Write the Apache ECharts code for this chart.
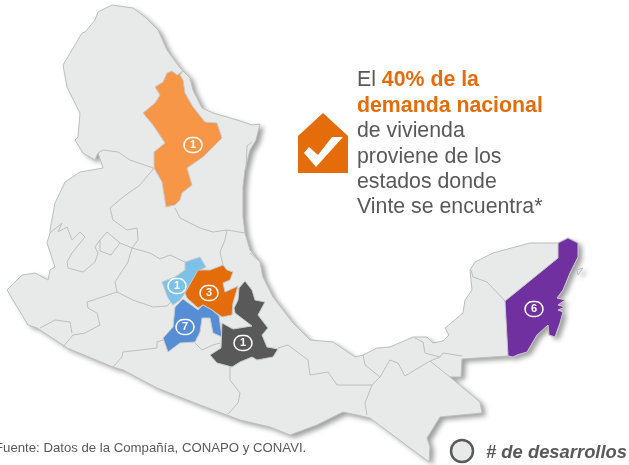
<!DOCTYPE html>
<html>
<head>
<meta charset="utf-8">
<style>html,body{margin:0;padding:0;background:#fff}#main{width:629px;height:465px}</style>
<script src="https://cdn.jsdelivr.net/npm/echarts@6/dist/echarts.min.js"></script>
</head>
<body>
<div id="main"></div>
<script>
// desarrollos por estado
const estados = ['Nuevo León', 'Querétaro', 'Hidalgo', 'Estado de México', 'Puebla', 'Quintana Roo'];
const desarrollos = [1, 1, 3, 7, 1, 6];
const coloresEstado = ['#F79646', '#7CC2E8', '#E46C0A', '#558ED5', '#595959', '#7030A0'];
const centros = [[193, 145], [177, 286], [209, 293], [185, 327], [243, 343], [534, 309]];

// contornos, en px
const contorno = [[112,5],[133,8],[145,17],[158,30],[167,50],[180,68],[190,78],[193,90],[202,108],[213,113],[237,120],[252,125],[260,124],[256,140],[250,150],[245,170],[243,187],[243,217],[245,233],[250,250],[260,262],[263,277],[273,297],[293,323],[310,340],[333,342],[355,357],[363,355],[377,348],[390,347],[413,337],[427,337],[433,343],[443,341],[449,335],[445,328],[463,313],[465,300],[472,290],[470,270],[475,262],[493,253],[530,243],[558,243],[568,238],[578,243],[578,257],[570,273],[563,290],[557,298],[565,300],[558,305],[565,307],[558,310],[563,312],[560,323],[555,337],[549,335],[548,325],[537,335],[527,352],[517,355],[513,357],[508,356],[462,359],[461,377],[450,377],[480,402],[482,413],[440,417],[427,438],[430,447],[429,462],[370,418],[357,415],[343,412],[317,425],[290,435],[270,427],[240,420],[227,415],[200,405],[157,388],[123,370],[113,367],[67,348],[63,345],[37,328],[28,325],[7,290],[22,275],[35,273],[48,280],[50,270],[55,267],[47,243],[50,233],[50,230],[55,203],[65,182],[80,172],[103,168],[98,153],[95,160],[83,153],[75,140],[78,137],[80,113],[67,87],[63,65],[82,33],[85,32],[95,20],[98,12]];
const isla = [[577,270],[583,268],[578,275]];
const nuevoLeon = [[183,71],[177,75],[172,71],[167,73],[163,82],[155,87],[160,95],[155,103],[143,113],[153,125],[165,143],[154,152],[154,168],[162,182],[166,207],[175,205],[180,200],[182,193],[192,185],[187,168],[203,157],[222,138],[217,123],[205,122],[193,107],[185,93],[183,80],[180,75]];
const queretaro = [[185,262],[200,257],[206,267],[200,270],[185,293],[180,300],[173,305],[168,298],[162,282],[175,277],[185,270]];
const hidalgo = [[198,270],[210,270],[223,265],[227,270],[233,272],[230,280],[223,283],[225,292],[238,286],[233,303],[232,315],[222,317],[212,310],[203,305],[198,308],[187,298],[185,293]];
const edoMexico = [[183,299],[198,310],[203,305],[212,310],[219,316],[222,337],[213,333],[210,318],[202,318],[200,332],[195,342],[180,343],[168,352],[163,338],[173,327],[175,307]];
const puebla = [[245,281],[252,290],[255,300],[265,302],[258,315],[268,328],[262,335],[267,347],[278,349],[273,357],[257,360],[252,357],[240,362],[232,367],[217,363],[210,355],[221,348],[222,323],[233,329],[252,326],[235,313],[234,308],[238,300],[239,288]];
const quintanaRoo = [[558,243],[568,238],[578,243],[578,257],[570,273],[563,290],[557,298],[565,300],[558,305],[565,307],[558,310],[563,312],[560,323],[555,337],[549,335],[548,325],[537,335],[527,352],[517,355],[513,357],[508,356],[505,301],[558,258]];
const poligonos = [nuevoLeon, queretaro, hidalgo, edoMexico, puebla, quintanaRoo];

const fronteras = [
  contorno.concat([contorno[0]]),
  isla.concat([isla[0]]),
  [[153,168],[130,160],[118,152],[103,150],[98,153]],
  [[154,168],[140,185],[123,197],[110,208],[113,220],[127,230],[137,228],[138,240],[132,248],[150,253],[160,259],[170,255],[185,262]],
  [[132,248],[128,262],[115,282],[117,292],[133,300],[153,307],[167,306],[173,300]],
  [[117,292],[87,302],[88,308],[97,313],[100,325],[85,333],[73,335],[63,347]],
  [[72,333],[70,322],[55,320],[40,328]],
  [[50,233],[62,223],[58,232],[67,227],[72,240],[80,232],[85,237],[72,253],[67,262],[68,268],[83,272],[95,262],[98,253],[95,247],[100,240],[107,232],[120,243],[111,255],[100,251],[100,240]],
  [[120,243],[132,248]],
  [[175,208],[180,218],[200,228],[213,232],[227,230],[245,233]],
  [[227,230],[225,240],[220,252],[223,265]],
  [[250,253],[258,260],[255,254]],
  [[252,142],[247,146],[246,170]],
  [[163,340],[157,342],[157,348],[123,352],[122,357],[113,367]],
  [[195,343],[202,350],[213,345],[220,343]],
  [[230,367],[230,380],[240,393],[238,403],[228,414]],
  [[278,348],[288,345],[308,360],[310,375],[328,372],[337,385],[372,385],[365,403],[367,415]],
  [[372,385],[380,377],[390,360],[398,363],[405,376],[430,361],[450,377]],
  [[363,355],[365,365],[380,377]],
  [[415,338],[423,342],[425,353],[440,357],[443,353],[462,356]],
  [[430,361],[440,357]],
  [[471,270],[473,277],[487,282],[505,301]]
];

// en GeoJSON la y crece hacia arriba
const flip = pts => pts.map(p => [p[0], -p[1]]);
const anillo = pts => [flip(pts.concat([pts[0]]))];
const features = [
  { type: 'Feature', properties: { name: 'base' }, geometry: { type: 'Polygon', coordinates: anillo(contorno) } },
  { type: 'Feature', properties: { name: 'isla' }, geometry: { type: 'Polygon', coordinates: anillo(isla) } },
  { type: 'Feature', properties: { name: 'fronteras' }, geometry: { type: 'MultiLineString', coordinates: fronteras.map(flip) } }
];
estados.forEach((e, i) => {
  features.push({
    type: 'Feature',
    properties: { name: e, cp: [centros[i][0], -centros[i][1]] },
    geometry: { type: 'Polygon', coordinates: anillo(poligonos[i]) }
  });
});
echarts.registerMap('mexico', { type: 'FeatureCollection', features });

// sin borde en la base: la sombra del trazo caeria sobre el relleno
const sombra = { borderWidth: 0, shadowColor: 'rgba(0,0,0,0.38)', shadowBlur: 5, shadowOffsetX: 4, shadowOffsetY: 3 };
const datos = [
  { name: 'base', value: 0, itemStyle: { areaColor: '#E8E9E9', ...sombra } },
  { name: 'isla', value: 0, itemStyle: { areaColor: '#E8E9E9', ...sombra } }
];
estados.forEach((e, i) => {
  datos.push({
    name: e,
    value: desarrollos[i],
    itemStyle: { areaColor: coloresEstado[i], borderColor: '#C9CACA' },
    label: {
      show: true,
      formatter: '{c|{c}}',
      rich: {
        c: {
          color: '#fff', fontFamily: 'Liberation Sans', fontWeight: 'bold', fontSize: 11,
          width: 18, height: 15, lineHeight: 16, align: 'center',
          borderColor: '#fff', borderWidth: 1.5, borderRadius: 8.5
        }
      }
    }
  });
});

const chart = echarts.init(document.getElementById('main'));
chart.setOption({
  animation: false,
  series: [{
    type: 'map',
    map: 'mexico',
    left: 0, top: 0, width: 629, height: 465,
    aspectScale: 1,
    boundingCoords: [[0, 0], [629, -465]],
    roam: false,
    silent: true,
    selectedMode: false,
    showLegendSymbol: false,
    label: { show: false },
    itemStyle: { areaColor: 'none', borderColor: '#BDBEBE', borderWidth: 1 },
    emphasis: { disabled: true },
    data: datos
  }],
  graphic: [
    // casa con palomita
    { type: 'polygon', silent: true, shape: { points: [[323,113],[348,136],[348,173],[298,173],[298,136]] }, style: { fill: '#E46C0A' } },
    { type: 'polygon', silent: true, shape: { points: [[304,153],[309,147],[318,155],[332,137],[343,137],[316,167]] }, style: { fill: '#fff' } },
    {
      type: 'text', silent: true, left: 357, top: 70,
      style: {
        text: '{n|El }{o|40% de la}\n{o|demanda nacional}\n{n|de vivienda}\n{n|proviene de los}\n{n|estados donde}\n{n|Vinte se encuentra*}',
        rich: {
          n: { fontFamily: 'Liberation Sans', fontSize: 21.3, lineHeight: 25.4, fill: '#595959' },
          o: { fontFamily: 'Liberation Sans', fontSize: 21.3, lineHeight: 25.4, fontWeight: 'bold', fill: '#E46C0A' }
        }
      }
    },
    {
      type: 'text', silent: true, left: -5, top: 442,
      style: { text: 'Fuente: Datos de la Compañía, CONAPO y CONAVI.', fontFamily: 'Liberation Sans', fontSize: 13.2, fill: '#595959' }
    },
    { type: 'circle', silent: true, shape: { cx: 462, cy: 451, r: 11 }, style: { fill: '#E8E9E9', stroke: '#595959', lineWidth: 2.5 } },
    {
      type: 'text', silent: true, left: 486, top: 444,
      style: { text: '# de desarrollos', fontFamily: 'Liberation Sans', fontStyle: 'italic', fontWeight: 'bold', fontSize: 18.4, fill: '#595959' }
    }
  ]
});
</script>
</body>
</html>
